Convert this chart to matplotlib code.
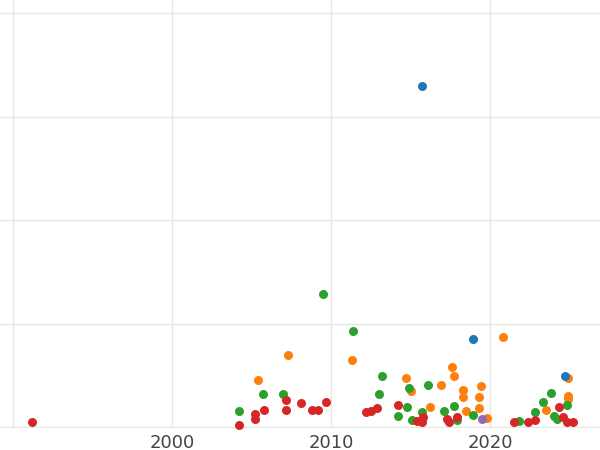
import matplotlib
matplotlib.use("Agg")
import matplotlib.pyplot as plt

# year, value pairs (y axis unlabeled)
blue_x = [2015.7, 2018.9, 2024.7]
blue_y = [3.30, 0.85, 0.49]
purple_x = [2019.5]
purple_y = [0.08]
orange_x = [2005.4, 2007.3, 2011.3, 2014.7, 2015.0, 2016.2, 2016.9, 2017.6, 2017.7, 2018.3,
            2018.3, 2018.5, 2019.3, 2019.4, 2019.3, 2019.8, 2020.8, 2023.5, 2024.9, 2024.9, 2024.9]
orange_y = [0.45, 0.70, 0.65, 0.47, 0.35, 0.19, 0.41, 0.58, 0.49, 0.36,
            0.29, 0.15, 0.29, 0.40, 0.18, 0.09, 0.87, 0.16, 0.47, 0.30, 0.27]
green_x = [2004.2, 2005.7, 2007.0, 2009.5, 2011.4, 2013.0, 2013.2, 2014.2, 2014.8, 2014.9,
           2015.1, 2015.7, 2016.1, 2017.1, 2017.7, 2017.9, 2018.9, 2021.8, 2022.8, 2023.3,
           2023.8, 2024.0, 2024.2, 2024.8]
green_y = [0.15, 0.32, 0.32, 1.29, 0.93, 0.32, 0.49, 0.11, 0.19, 0.38,
           0.07, 0.14, 0.41, 0.15, 0.20, 0.07, 0.12, 0.06, 0.14, 0.24,
           0.33, 0.11, 0.08, 0.21]
red_x = [1991.2, 2004.2, 2005.2, 2005.2, 2005.8, 2007.2, 2007.2, 2008.1, 2008.8, 2009.2,
         2009.7, 2012.2, 2012.5, 2012.9, 2014.2, 2015.4, 2015.7, 2015.8, 2017.3, 2017.4,
         2017.9, 2021.5, 2022.4, 2022.8, 2024.3, 2024.6, 2024.8, 2025.2]
red_y = [0.05, 0.02, 0.13, 0.08, 0.16, 0.16, 0.26, 0.23, 0.16, 0.16,
         0.24, 0.14, 0.15, 0.18, 0.21, 0.06, 0.05, 0.10, 0.08, 0.05,
         0.10, 0.05, 0.05, 0.07, 0.19, 0.10, 0.05, 0.05]

fig = plt.figure(figsize=(6, 4.5), dpi=100)
ax = fig.add_axes([0, 22 / 450, 1, 1 - 22 / 450])

series = [(orange_x, orange_y, "#ff7f0e"), (green_x, green_y, "#2ca02c"),
          (red_x, red_y, "#d62728"), (blue_x, blue_y, "#1f77b4"),
          (purple_x, purple_y, "#9467bd")]
for xs, ys, c in series:
    ax.scatter(xs, ys, s=42, color=c, linewidths=0, zorder=3, clip_on=False)

ax.set_xlim(1989.2, 2026.9)
ax.set_ylim(-0.01, 4.13)
ax.set_xticks([1990, 2000, 2010, 2020])
ax.set_xticklabels(["", "2000", "2010", "2020"])
ax.set_yticks([0, 1, 2, 3, 4])
ax.set_yticklabels([])
ax.grid(True, color="#e6e6e6", linewidth=1)
ax.set_axisbelow(True)
for s in ax.spines.values():
    s.set_visible(False)
ax.tick_params(length=0, labelsize=13, labelcolor="#444444", pad=4)

fig.savefig("out.png")
